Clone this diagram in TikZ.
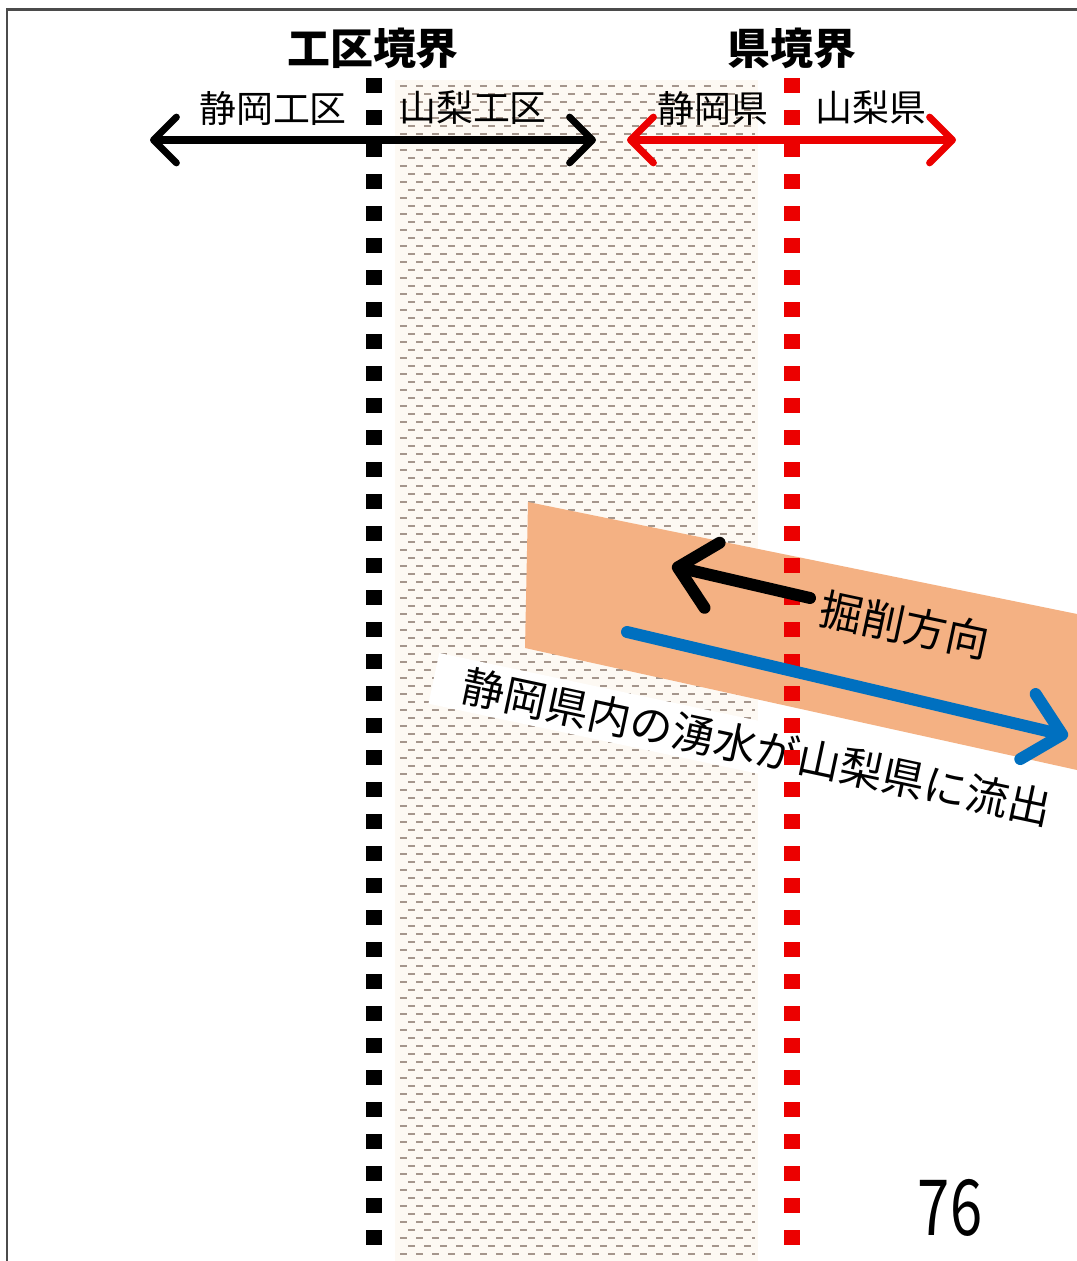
\documentclass[tikz,border=0pt]{standalone}
\usepackage{fontspec}
\setmainfont{Noto Sans CJK JP}
\usepackage{tikz}
\usetikzlibrary{arrows.meta}

\definecolor{bandorange}{RGB}{244,177,131}
\definecolor{flowblue}{RGB}{0,112,192}
\definecolor{hatchgray}{RGB}{165,150,140}
\definecolor{hatchbg}{RGB}{253,249,243}
\definecolor{prefred}{RGB}{236,0,0}
\definecolor{framegray}{RGB}{75,75,75}

\begin{document}
\begin{tikzpicture}[x=0.01cm, y=-0.01cm,
  head/.style={font=\bfseries\fontsize{12.2pt}{14pt}\selectfont},
  side/.style={font=\fontsize{10.5pt}{12pt}\selectfont},
  hatchline/.style={hatchgray, line width=0.6pt, dash pattern=on 0.07cm off 0.09cm},
  toparr/.style={line width=2pt, {Straight Barb[round,length=6.5pt,width=13pt]}-{Straight Barb[round,length=6.5pt,width=13pt]}},
  bigarr/.style={line width=3.4pt, line cap=round, -{Straight Barb[round,length=10pt,width=19pt]}},
  slant/.style={font=\fontsize{12.2pt}{14pt}\selectfont, rotate=-12}
]
\useasboundingbox (0,0) rectangle (1077,1261);
\fill[white] (0,0) rectangle (1077,1261);
\draw[framegray, line width=0.85pt] (7,1261) -- (7,10) -- (1077,10);

% hatched strip between the two boundaries
\fill[hatchbg] (395,80) rectangle (758,1261);
\foreach \y in {86,102,...,1261} \draw[hatchline] (400,\y) -- (755,\y);
\foreach \y in {94,110,...,1261} \draw[hatchline, dash phase=0.08cm] (400,\y) -- (755,\y);

% tunnel band
\fill[bandorange] (528,502) -- (1077,614) -- (1077,770) -- (525,648) -- cycle;

% label of the outflow, on white
\node[slant, fill=white, inner xsep=0.3cm, inner ysep=0.06cm] (flowtxt) at (757,747) {静岡県内の湧水が山梨県に流出};

% boundary lines
\foreach \y in {78,110,...,1240} {
  \fill[black] (366,\y) rectangle ++(16,15);
  \fill[prefred] (784,\y) rectangle ++(16,15);
}

% headings
\node[head] (kukai) at (373,48) {工区境界};
\node[head] (kenkai) at (792,48) {県境界};
\node[side] (shizK) at (273,108) {静岡工区};
\node[side] (yamaK) at (473,108) {山梨工区};
\node[side] (shizP) at (713,108) {静岡県};
\node[side] (yamaP) at (871,108) {山梨県};

\coordinate (kL) at (150,140);
\coordinate (kR) at (596,140);
\draw[toparr] (kL) -- (kR);
\coordinate (pL) at (627,140);
\coordinate (pR) at (956,140);
\draw[toparr, prefred] (pL) -- (pR);

% excavation and outflow
\node[slant] (digtxt) at (905,625) {掘削方向};
\coordinate (digS) at (810,598);
\coordinate (digE) at (672,566);
\draw[bigarr] (digS) -- (digE);
\coordinate (flowS) at (627,632);
\coordinate (flowE) at (1068,736);
\draw[bigarr, flowblue] (flowS) -- (flowE);

\node[font=\fontsize{22pt}{24pt}\selectfont, xscale=0.75] (pageno) at (950,1208) {76};
\end{tikzpicture}
\end{document}
